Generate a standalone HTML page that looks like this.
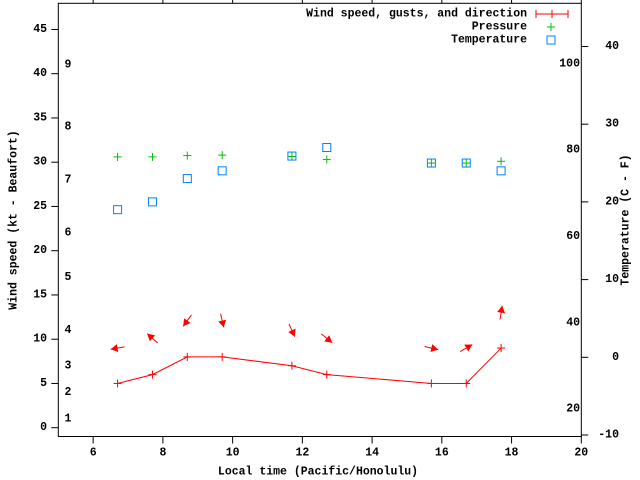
<!DOCTYPE html>
<html><head><meta charset="utf-8"><style>
html,body{margin:0;padding:0;background:#fff;}
svg{display:block;font-family:"Liberation Mono",monospace;font-weight:bold;font-size:11.5px;}
</style></head><body>
<svg id="chart" width="640" height="480" viewBox="0 0 640 480" xmlns="http://www.w3.org/2000/svg"></svg>
<script>
const times = [6.7, 7.7, 8.7, 9.7, 11.7, 12.7, 15.7, 16.7, 17.7];
const windSpeed = [5, 6, 8, 8, 7, 6, 5, 5, 9];
const gusts = [9, 10.1, 12.1, 12.1, 11, 10.1, 9, 9, 13];
const windFrom = [80, 132, 36, 347, 335, 309, 283, 240, 189];
const pressure = [30.6, 30.6, 30.75, 30.8, 30.65, 30.3, 29.9, 29.9, 30.1];
const temperature = [19.0, 20.0, 23.0, 24.0, 25.9, 27.0, 25.0, 25.0, 24.0];
const xTicks = [6, 8, 10, 12, 14, 16, 18, 20];
const yTicks = [0, 5, 10, 15, 20, 25, 30, 35, 40, 45];
const cTicks = [-10, 0, 10, 20, 30, 40];
const fLabels = [20, 40, 60, 80, 100];
const beaufortLabels = [1, 2, 3, 4, 5, 6, 7, 8, 9];
const beaufortKt = [1, 4, 7, 11, 17, 22, 28, 34, 41];

const L = 58.3, R = 581.3, T = 3.3, B = 436.5;
const X = t => L + (t - 5) * (R - L) / 15;
const Y = v => 427.7 - v * 8.85;
const YC = c => 357.3 - c * 7.77;
const svg = document.getElementById('chart');
const NS = 'http://www.w3.org/2000/svg';
function mk(tag, attrs, parent) {
  const e = document.createElementNS(NS, tag);
  for (const k in attrs) e.setAttribute(k, attrs[k]);
  (parent || svg).appendChild(e);
  return e;
}
function txt(x, y, s, anchor, parent) {
  const e = mk('text', {x: x, y: y, 'text-anchor': anchor || 'middle', 'dominant-baseline': 'central', fill: '#000'}, parent);
  e.textContent = s;
  return e;
}
// frame
const frame = mk('rect', {x: L, y: T, width: R - L, height: B - T, fill: 'none', stroke: '#000', 'stroke-width': 1});


// x ticks
const xg = mk('g', {});


xTicks.forEach(t => {
  mk('line', {x1: X(t), x2: X(t), y1: B, y2: B + 7, stroke: '#000'}, xg);
  mk('line', {x1: X(t), x2: X(t), y1: T, y2: T - 7, stroke: '#000'}, xg);
  const l = txt(X(t), 453, String(t), 'middle', xg);
  
  
});
const xt = txt(318, 472, 'Local time (Pacific/Honolulu)');


// y ticks
const yg = mk('g', {});


yTicks.forEach(v => {
  mk('line', {x1: L - 7, x2: L, y1: Y(v), y2: Y(v), stroke: '#000'}, yg);
  const l = txt(47, Y(v), String(v), 'end', yg);
  
  
});
beaufortLabels.forEach((b, i) => {
  const l = txt(68, Y(beaufortKt[i]), String(b), 'middle', yg);
  
  
});
const yt = txt(0, 0, 'Wind speed (kt - Beaufort)');
yt.setAttribute('transform', 'translate(14,220) rotate(-90)');


// right axis
const rg = mk('g', {});


cTicks.forEach(c => {
  mk('line', {x1: R, x2: R + 7, y1: YC(c), y2: YC(c), stroke: '#000'}, rg);
  const l = txt(619, YC(c), String(c), 'end', rg);
  
  
});
fLabels.forEach(f => {
  const l = txt(580, YC((f - 32) / 1.8), String(f), 'end', rg);
  
  
});
const rt = txt(0, 0, 'Temperature (C - F)');
rt.setAttribute('transform', 'translate(626,220) rotate(-90)');


// wind line
const pts = times.map((t, i) => X(t) + ',' + Y(windSpeed[i])).join(' ');
const wl = mk('polyline', {points: pts, fill: 'none', stroke: '#f00', 'stroke-width': 1});


function plus(x, y, color, name) {
  const g = mk('g', {stroke: color, 'stroke-width': 1});
  
  
  mk('line', {x1: x - 4, x2: x + 4, y1: y, y2: y}, g);
  mk('line', {x1: x, x2: x, y1: y - 4, y2: y + 4}, g);
}
times.forEach((t, i) => plus(X(t), Y(windSpeed[i]), '#f00', 'wind-speed-point'));
// arrows
times.forEach((t, i) => {
  const cx = X(t), cy = Y(gusts[i]);
  const b = (windFrom[i] + 180) * Math.PI / 180;
  const dx = Math.sin(b) * 7, dy = -Math.cos(b) * 7;
  const g = mk('g', {});
  
  
  mk('line', {x1: cx - dx, y1: cy - dy, x2: cx + dx, y2: cy + dy, stroke: '#f00', 'stroke-width': 1}, g);
  const hx = cx + dx, hy = cy + dy, ux = dx / 7, uy = dy / 7;
  const p1 = (hx - ux * 7 - uy * 4) + ',' + (hy - uy * 7 + ux * 4);
  const p2 = (hx - ux * 7 + uy * 4) + ',' + (hy - uy * 7 - ux * 4);
  mk('polygon', {points: hx + ',' + hy + ' ' + p1 + ' ' + p2, fill: '#f00'}, g);
});
// pressure
times.forEach((t, i) => plus(X(t), Y(pressure[i]), '#00c000', 'pressure-point'));
// temperature
times.forEach((t, i) => {
  const r = mk('rect', {x: X(t) - 4, y: YC(temperature[i]) - 4, width: 8, height: 8, fill: 'none', stroke: '#0080ff', 'stroke-width': 1});
  
  
});
// legend
const lg = mk('g', {});


const l1 = txt(527, 14, 'Wind speed, gusts, and direction', 'end', lg);


mk('line', {x1: 536, x2: 568, y1: 14, y2: 14, stroke: '#f00'}, lg);
mk('line', {x1: 536, x2: 536, y1: 10, y2: 18, stroke: '#f00'}, lg);
mk('line', {x1: 568, x2: 568, y1: 10, y2: 18, stroke: '#f00'}, lg);
mk('line', {x1: 552, x2: 552, y1: 10, y2: 18, stroke: '#f00'}, lg);
const l2 = txt(527, 27, 'Pressure', 'end', lg);


plus(551, 27, '#00c000', 'legend-pressure-marker');
const l3 = txt(527, 40, 'Temperature', 'end', lg);


mk('rect', {x: 547, y: 36, width: 8, height: 8, fill: 'none', stroke: '#0080ff'}, lg);
</script>
</body></html>
